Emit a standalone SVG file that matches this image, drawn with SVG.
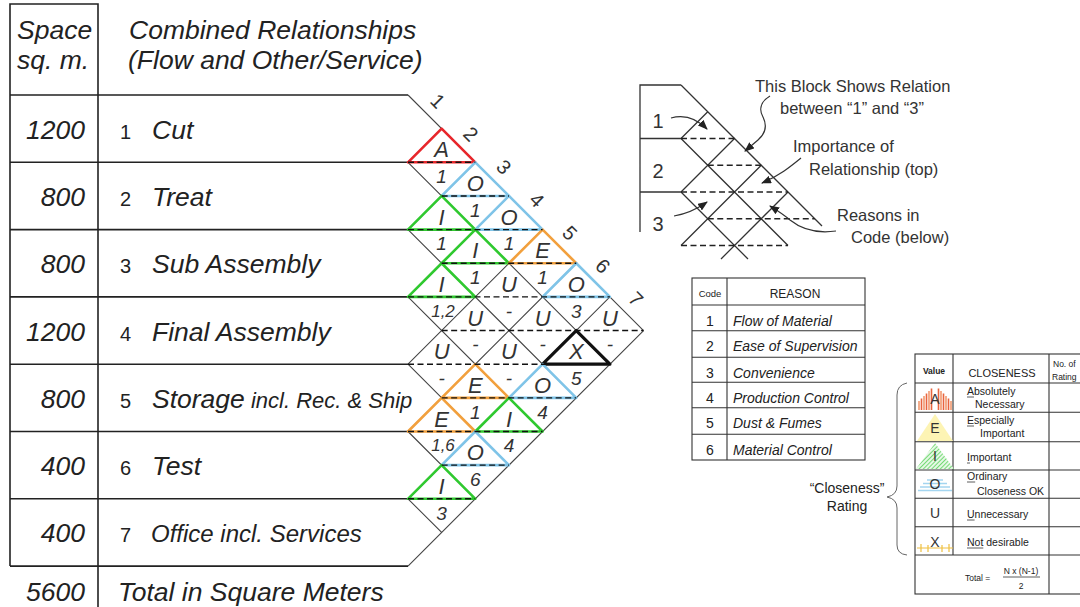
<svg xmlns="http://www.w3.org/2000/svg" width="1080" height="607" viewBox="0 0 1080 607">
<defs>
<style>
text{font-family:"Liberation Sans",Arial,sans-serif;fill:#222}
.big{font-size:26.5px;font-style:italic}
.mid{font-size:24px;font-style:italic}
.sm{font-size:22px;font-style:italic}
.num{font-size:20px}
.rl{stroke:#222;stroke-width:1.6;fill:none}
.grid{stroke:#444;stroke-width:1.1;fill:none}
.dash{stroke:#111;stroke-width:1.4;stroke-dasharray:6 3.5;fill:none}
.tri{fill:none;stroke-width:2.6;stroke-linejoin:round}
.tA{stroke:#e8262b}.tE{stroke:#f2a03d}.tI{stroke:#2fc92f}.tO{stroke:#7fc4e8}.tX{stroke:#111;stroke-width:3.2}
.lt{font-size:22px;font-style:italic;text-anchor:middle;fill:#333}
.cd{font-size:19px;font-style:italic;text-anchor:middle;fill:#333}
.cds{font-size:17px;font-style:italic;text-anchor:middle;fill:#333}
.hd{font-size:20px;text-anchor:middle;fill:#333}
.sl{stroke:#333;stroke-width:1.3;fill:none}
.sd{stroke:#222;stroke-width:1.3;stroke-dasharray:6 3.5;fill:none}
.arr{stroke:#333;stroke-width:1.2;fill:none}
.note{font-size:16.5px;fill:#333}
.tb{stroke:#333;stroke-width:1.1;fill:none}
.ct{font-size:14px;font-style:italic;fill:#222}
.cn{font-size:14px;text-anchor:middle;fill:#222}
.cl{font-size:10.5px;fill:#222}
.vl{font-size:14px;text-anchor:middle;fill:#333}
.ul{stroke:#333;stroke-width:0.8}
.tiny{font-size:8.5px;fill:#222}
</style>
<marker id="ah" markerUnits="userSpaceOnUse" markerWidth="10" markerHeight="8" refX="9" refY="4" orient="auto"><path d="M0,0 L10,4 L0,8 z" fill="#222"/></marker>
<pattern id="hatch" patternUnits="userSpaceOnUse" width="3" height="3" patternTransform="rotate(45)"><rect width="3" height="3" fill="#e6f8e6"/><line x1="0" y1="0" x2="0" y2="3" stroke="#4fd04f" stroke-width="1.5"/></pattern>
</defs>

<g id="space-table">
<path class="rl" d="M10,566.1 V4 H98 V607 M10,95 H408 M10,162.3 H408 M10,229.6 H408 M10,296.9 H408 M10,364.2 H408 M10,431.5 H408 M10,498.8 H408 M10,566.1 H408"/>
<text class="big" x="17" y="39">Space</text>
<text class="big" x="17" y="69">sq. m.</text>
<text class="big" x="129" y="39">Combined Relationships</text>
<text class="big" x="128" y="69">(Flow and Other/Service)</text>
</g>

<g id="row-1"><text class="big" x="85" y="138.6" text-anchor="end">1200</text><text class="num" x="120" y="138.6">1</text><text class="big" x="152" y="138.6">Cut</text></g>
<g id="row-2"><text class="big" x="85" y="206" text-anchor="end">800</text><text class="num" x="120" y="206">2</text><text class="big" x="152" y="206">Treat</text></g>
<g id="row-3"><text class="big" x="85" y="273.2" text-anchor="end">800</text><text class="num" x="120" y="273.2">3</text><text class="big" x="152" y="273.2">Sub Assembly</text></g>
<g id="row-4"><text class="big" x="85" y="340.5" text-anchor="end">1200</text><text class="num" x="120" y="340.5">4</text><text class="big" x="152" y="340.5">Final Assembly</text></g>
<g id="row-5"><text class="big" x="85" y="407.8" text-anchor="end">800</text><text class="num" x="120" y="407.8">5</text><text x="152" y="407.8"><tspan class="big">Storage</tspan><tspan class="sm"> incl. Rec. &amp; Ship</tspan></text></g>
<g id="row-6"><text class="big" x="85" y="475.1" text-anchor="end">400</text><text class="num" x="120" y="475.1">6</text><text class="big" x="152" y="475.1">Test</text></g>
<g id="row-7"><text class="big" x="85" y="542.4" text-anchor="end">400</text><text class="num" x="120" y="542.4">7</text><text class="mid" x="151" y="542.4">Office incl. Services</text></g>
<g id="row-total"><text class="big" x="85" y="601" text-anchor="end">5600</text><text class="big" x="118" y="601">Total in Square Meters</text></g>

<g id="chart-grid">
<path class="grid" d="M408,95 L643.55,330.55 M408,162.3 L609.9,364.2 M408,229.6 L576.25,397.85 M408,296.9 L542.6,431.5 M408,364.2 L508.95,465.15 M408,431.5 L475.3,498.8 M408,498.8 L441.65,532.45 M408,162.3 L441.65,128.65 M408,229.6 L475.3,162.3 M408,296.9 L508.95,195.95 M408,364.2 L542.6,229.6 M408,431.5 L576.25,263.25 M408,498.8 L609.9,296.9 M408,566.1 L643.55,330.55"/>
</g>

<g id="column-labels">
<text class="hd" transform="translate(438,101) rotate(45)" y="7">1</text>
<text class="hd" transform="translate(471,134) rotate(45)" y="7">2</text>
<text class="hd" transform="translate(504,167) rotate(45)" y="7">3</text>
<text class="hd" transform="translate(537,200) rotate(45)" y="7">4</text>
<text class="hd" transform="translate(570,233) rotate(45)" y="7">5</text>
<text class="hd" transform="translate(603,266) rotate(45)" y="7">6</text>
<text class="hd" transform="translate(636,299) rotate(45)" y="7">7</text>
</g>

<g id="cells">
<g id="cell-1-2"><path class="tri tA" d="M441.65,128.65 L408,162.3 L475.3,162.3 Z"/><text class="lt" x="441.65" y="157.3">A</text><text class="cd" x="441.65" y="183">1</text></g>
<g id="cell-1-3"><path class="tri tO" d="M475.3,162.3 L441.65,195.95 L508.95,195.95 Z"/><text class="lt" x="475.3" y="190.9">O</text><text class="cd" x="475.3" y="216.6">1</text></g>
<g id="cell-2-3"><path class="tri tI" d="M441.65,195.95 L408,229.6 L475.3,229.6 Z"/><text class="lt" x="441.65" y="224.6">I</text><text class="cd" x="441.65" y="250.3">1</text></g>
<g id="cell-1-4"><path class="tri tO" d="M508.95,195.95 L475.3,229.6 L542.6,229.6 Z"/><text class="lt" x="508.95" y="224.6">O</text><text class="cd" x="508.95" y="250.3">1</text></g>
<g id="cell-2-4"><path class="tri tI" d="M475.3,229.6 L441.65,263.25 L508.95,263.25 Z"/><text class="lt" x="475.3" y="258.2">I</text><text class="cd" x="475.3" y="283.9">1</text></g>
<g id="cell-1-5"><path class="tri tE" d="M542.6,229.6 L508.95,263.25 L576.25,263.25 Z"/><text class="lt" x="542.6" y="258.2">E</text><text class="cd" x="542.6" y="283.9">1</text></g>
<g id="cell-3-4"><path class="tri tI" d="M441.65,263.25 L408,296.9 L475.3,296.9 Z"/><text class="lt" x="441.65" y="291.9">I</text><text class="cds" x="443" y="316.5">1,2</text></g>
<g id="cell-2-5"><text class="lt" x="508.95" y="291.9">U</text><text class="cd" x="508.95" y="317.6">-</text></g>
<g id="cell-1-6"><path class="tri tO" d="M576.25,263.25 L542.6,296.9 L609.9,296.9 Z"/><text class="lt" x="576.25" y="291.9">O</text><text class="cd" x="576.25" y="317.6">3</text></g>
<g id="cell-3-5"><text class="lt" x="475.3" y="325.5">U</text><text class="cd" x="475.3" y="351.2">-</text></g>
<g id="cell-2-6"><text class="lt" x="542.6" y="325.5">U</text><text class="cd" x="542.6" y="351.2">-</text></g>
<g id="cell-1-7"><text class="lt" x="609.9" y="325.5">U</text><text class="cd" x="609.9" y="351.2">-</text></g>
<g id="cell-4-5"><text class="lt" x="441.65" y="359.2">U</text><text class="cd" x="441.65" y="384.9">-</text></g>
<g id="cell-3-6"><text class="lt" x="508.95" y="359.2">U</text><text class="cd" x="508.95" y="384.9">-</text></g>
<g id="cell-2-7"><path class="tri tX" d="M576.25,330.55 L542.6,364.2 L609.9,364.2 Z"/><text class="lt" x="576.25" y="359.2">X</text><text class="cd" x="576.25" y="384.9">5</text></g>
<g id="cell-4-6"><path class="tri tE" d="M475.3,364.2 L441.65,397.85 L508.95,397.85 Z"/><text class="lt" x="475.3" y="392.8">E</text><text class="cd" x="475.3" y="418.5">1</text></g>
<g id="cell-3-7"><path class="tri tO" d="M542.6,364.2 L508.95,397.85 L576.25,397.85 Z"/><text class="lt" x="542.6" y="392.8">O</text><text class="cd" x="542.6" y="418.5">4</text></g>
<g id="cell-5-6"><path class="tri tE" d="M441.65,397.85 L408,431.5 L475.3,431.5 Z"/><text class="lt" x="441.65" y="426.5">E</text><text class="cds" x="443" y="451">1,6</text></g>
<g id="cell-4-7"><path class="tri tI" d="M508.95,397.85 L475.3,431.5 L542.6,431.5 Z"/><text class="lt" x="508.95" y="426.5">I</text><text class="cd" x="508.95" y="452.2">4</text></g>
<g id="cell-5-7"><path class="tri tO" d="M475.3,431.5 L441.65,465.15 L508.95,465.15 Z"/><text class="lt" x="475.3" y="460.1">O</text><text class="cd" x="475.3" y="485.8">6</text></g>
<g id="cell-6-7"><path class="tri tI" d="M441.65,465.15 L408,498.8 L475.3,498.8 Z"/><text class="lt" x="441.65" y="493.8">I</text><text class="cd" x="441.65" y="519.5">3</text></g>
</g>

<g id="chart-dashes">
<path class="dash" d="M408,162.3 H475.3 M441.65,195.95 H508.95 M408,229.6 H542.6 M441.65,263.25 H576.25 M408,296.9 H609.9 M441.65,330.55 H643.55 M408,364.2 H609.9 M441.65,397.85 H576.25 M408,431.5 H542.6 M441.65,465.15 H508.95 M408,498.8 H475.3"/>
</g>

<g id="example-block">
<path class="sl" d="M640,232 V85 H681 M640,138.5 H681 M640,192 H681 M681,85 L822,226 M681,138.5 L707.75,111.75 M681,192 L734.5,138.5 M681,245.5 L761.25,165.25 M721,259 L788,192 M681,138.5 L788,245.5 M681,192 L748,259"/>
<path class="sd" d="M681,138.5 H734.5 M707.75,165.25 H761.25 M681,192 H788 M707.75,218.75 H814.75 M681,245.5 H788"/>
<text class="hd" x="658" y="128">1</text>
<text class="hd" x="658" y="178">2</text>
<text class="hd" x="658" y="231">3</text>
</g>

<g id="callouts">
<text class="note" x="755" y="92">This Block Shows Relation</text>
<text class="note" x="780" y="114">between “1” and “3”</text>
<text class="note" x="793" y="152">Importance of</text>
<text class="note" x="809" y="175">Relationship (top)</text>
<text class="note" x="837" y="221">Reasons in</text>
<text class="note" x="851" y="243">Code (below)</text>
</g>

<g id="connectors">
<path class="arr" marker-end="url(#ah)" d="M671,118 C685,114 697,119 707,129"/>
<path class="arr" marker-end="url(#ah)" d="M674,216 C686,214 697,209 707,202"/>
<path class="arr" marker-end="url(#ah)" d="M770,96 C760,102 759,110 763,117 C767,125 766,133 758,140 L745,151"/>
<path class="arr" marker-end="url(#ah)" d="M801,158 C790,167 779,176 762,183"/>
<path class="arr" marker-end="url(#ah)" d="M836,231 C815,234 800,228 790,220 C783,214 778,211 770,206"/>
</g>

<g id="code-table">
<rect class="tb" x="692" y="278" width="173" height="182"/>
<path class="tb" d="M727,278 V460 M692,305 H865 M692,330.7 H865 M692,357.3 H865 M692,382.3 H865 M692,407.7 H865 M692,434.3 H865"/>
<text x="710" y="297" font-size="9.5" text-anchor="middle">Code</text>
<text x="795" y="298" font-size="12" text-anchor="middle">REASON</text>
<text class="cn" x="710" y="325.5">1</text><text class="ct" x="733" y="325.5">Flow of Material</text>
<text class="cn" x="710" y="351.2">2</text><text class="ct" x="733" y="351.2">Ease of Supervision</text>
<text class="cn" x="710" y="377.8">3</text><text class="ct" x="733" y="377.8">Convenience</text>
<text class="cn" x="710" y="402.8">4</text><text class="ct" x="733" y="402.8">Production Control</text>
<text class="cn" x="710" y="428.2">5</text><text class="ct" x="733" y="428.2">Dust &amp; Fumes</text>
<text class="cn" x="710" y="454.8">6</text><text class="ct" x="733" y="454.8">Material Control</text>
</g>

<g id="closeness-label">
<path d="M907,383 Q897,385 897,395 L897,486 Q897,495 887,497 Q897,499 897,508 L897,545 Q897,554 907,555" fill="none" stroke="#666" stroke-width="1"/>
<text x="847" y="493" font-size="14" text-anchor="middle" fill="#333">“Closeness”</text>
<text x="847" y="511" font-size="14" text-anchor="middle" fill="#333">Rating</text>
</g>

<g id="closeness-table">
<rect class="tb" x="915" y="354" width="185" height="240"/>
<path class="tb" d="M953,354 V555 M1049,354 V594 M915,383 H1100 M915,412.3 H1100 M915,441.7 H1100 M915,470 H1100 M915,498.3 H1100 M915,526.7 H1100 M915,555 H1100"/>
<text x="934" y="374" font-size="8.5" font-weight="bold" text-anchor="middle" fill="#333">Value</text>
<text x="1002" y="377" font-size="11" text-anchor="middle">CLOSENESS</text>
<text class="tiny" x="1053" y="367">No. of</text>
<text class="tiny" x="1052" y="380">Rating</text>
<g id="icon-A" stroke-width="1.6">
<path stroke="#f29a70" d="M919,410 V401 M924,410 V396 M929,410 V391 M941,410 V391 M946,410 V396 M951,410 V401"/>
<path stroke="#e8643f" d="M921.5,410 V398.5 M926.5,410 V393.5 M931.5,410 V388.5 M938.5,410 V388.5 M943.5,410 V393.5 M948.5,410 V398.5"/>
<text class="vl" x="935" y="404" fill="#6a3a30">A</text>
</g>
<g id="icon-E"><path d="M935,414 L917,441 L953,441 Z" fill="#fdf4b4"/><text class="vl" x="935" y="433">E</text></g>
<g id="icon-I"><path d="M935,443 L916,469 L954,469 Z" fill="url(#hatch)"/><text class="vl" x="935" y="461">I</text></g>
<g id="icon-O"><path d="M927,480 H943 M923,483.5 H947 M920,487 H950 M918,490.5 H952" stroke="#a4d5f0" stroke-width="1.3"/><text class="vl" x="935" y="489" fill="#3a6a96">O</text></g>
<g id="icon-U"><text class="vl" x="935" y="518">U</text></g>
<g id="icon-X"><path d="M917,548 H953 M921,544 V552 M928,545 V552 M942,545 V552 M949,544 V552" stroke="#efc040" stroke-width="1.2"/><text class="vl" x="935" y="547">X</text></g>
<text class="cl" x="967" y="395">Absolutely</text><text class="cl" x="975" y="408">Necessary</text>
<text class="cl" x="967" y="424">Especially</text><text class="cl" x="980" y="437">Important</text>
<text class="cl" x="967" y="461">Important</text>
<text class="cl" x="967" y="480">Ordinary</text><text class="cl" x="977" y="495">Closeness OK</text>
<text class="cl" x="967" y="518">Unnecessary</text>
<text class="cl" x="967" y="546">Not desirable</text>
<path class="ul" d="M967,397 H974 M967,426 H974 M967,463 H970 M967,482 H975.2 M967,520 H974.6 M967,548 H983.3"/>
<text class="tiny" x="965" y="581" font-size="8">Total =</text>
<text class="tiny" x="1021" y="574" text-anchor="middle">N x (N-1)</text>
<path d="M1003,577 H1040" stroke="#333" stroke-width="0.8"/>
<text class="tiny" x="1021" y="589" text-anchor="middle">2</text>
</g>
</svg>
